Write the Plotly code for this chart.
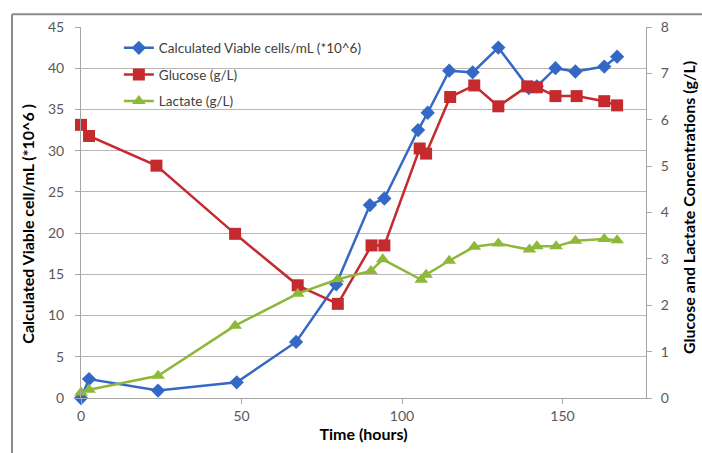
import plotly.graph_objects as go

# Culture time course: viable cell density (left axis) and glucose / lactate (right axis)
cell_hours = [0, 2.5, 24, 48.5, 67, 79.5, 90, 94.5, 105, 108, 114.7, 122, 130,
              139.5, 142, 147.8, 154, 163, 167]
viable_cells = [0, 2.3, 0.9, 1.9, 6.8, 13.8, 23.4, 24.2, 32.5, 34.6, 39.7, 39.5, 42.5,
                37.6, 37.8, 40.0, 39.6, 40.2, 41.4]

glucose_hours = [0, 2.5, 23.5, 48, 67.5, 80, 90.5, 94.5, 105.5, 107.5, 115, 122.5, 130,
                 139, 142, 147.8, 154.4, 163, 167]
glucose = [5.89, 5.65, 5.01, 3.54, 2.43, 2.03, 3.29, 3.29, 5.38, 5.27, 6.49, 6.74, 6.29,
           6.72, 6.70, 6.51, 6.51, 6.40, 6.31]

lactate_hours = [0, 2.5, 24, 48, 67.5, 80, 90.3, 94, 106, 107.5, 114.7, 122.5, 130,
                 139.7, 142, 148, 154, 163, 167]
lactate = [0.12, 0.18, 0.48, 1.56, 2.25, 2.56, 2.74, 2.99, 2.55, 2.66, 2.96, 3.26, 3.33,
           3.20, 3.27, 3.27, 3.39, 3.43, 3.40]

x_ticks = [0, 50, 100, 150]
left_ticks = [0, 5, 10, 15, 20, 25, 30, 35, 40, 45]
right_ticks = [0, 1, 2, 3, 4, 5, 6, 7, 8]

BLUE = "#3468C6"
RED = "#C42A2E"
GREEN = "#8DB83A"
FONT = "Lato, Open Sans, sans-serif"
TICK_COLOR = "#595959"
GRID = "#BDB5B5"
AXIS = "#A6A6A6"

fig = go.Figure()

fig.add_trace(go.Scatter(
    x=cell_hours, y=viable_cells, name="Calculated Viable cells/mL (*10^6)",
    legendgroup="cells",
    mode="lines+markers", line=dict(color=BLUE, width=2.5),
    marker=dict(symbol="diamond", size=11, color=BLUE), cliponaxis=False, yaxis="y"))

fig.add_trace(go.Scatter(
    x=glucose_hours, y=glucose, name="Glucose (g/L)", legendgroup="glucose",
    mode="lines+markers", line=dict(color=RED, width=2.5),
    marker=dict(symbol="square", size=12, color=RED), cliponaxis=False, yaxis="y2"))

fig.add_trace(go.Scatter(
    x=lactate_hours, y=lactate, name="Lactate (g/L)", legendgroup="lactate",
    mode="lines+markers", line=dict(color=GREEN, width=2.5),
    marker=dict(symbol="triangle-up", size=12, color=GREEN), cliponaxis=False, yaxis="y2"))

fig.update_layout(
    width=702, height=453,
    margin=dict(l=81, r=56, t=27, b=51),
    paper_bgcolor="white", plot_bgcolor="white",
    font=dict(family=FONT, size=14, color=TICK_COLOR),
    showlegend=True,
    legend=dict(x=0.067, y=0.985, xanchor="left", yanchor="top",
                bgcolor="rgba(255,255,255,0)", font=dict(size=13.5, color="#404040"),
                itemwidth=30, tracegroupgap=6),
    xaxis=dict(range=[0, 176], tickvals=x_ticks, showgrid=False, zeroline=False,
               showline=True, linecolor=AXIS, linewidth=1,
               ticks="outside", ticklen=5, tickcolor=AXIS,
               title=dict(text="<b>Time (hours)</b>", font=dict(size=16, color="#000000"),
                          standoff=6)),
    yaxis=dict(range=[0, 45], tickvals=left_ticks, showgrid=True, gridcolor=GRID,
               gridwidth=1, zeroline=False, showline=True, linecolor=AXIS,
               ticks="outside", ticklen=5, tickcolor=AXIS, ticklabelstandoff=8),
    yaxis2=dict(range=[0, 8], tickvals=right_ticks, overlaying="y", side="right",
                showgrid=False, zeroline=False, showline=True, linecolor=AXIS,
                ticks="outside", ticklen=5, tickcolor=AXIS, ticklabelstandoff=6),
)

# axis titles placed as rotated annotations
fig.add_annotation(text="<b>Calculated Viable cell/mL (*10^6 )</b>", textangle=-90,
                   xref="paper", yref="paper", x=(28 - 81) / 565, y=0.47,
                   xanchor="center", yanchor="middle", showarrow=False,
                   font=dict(size=16, color="#000000"))
fig.add_annotation(text="<b>Glucose and Lactate Concentrations (g/L)</b>", textangle=-90,
                   xref="paper", yref="paper", x=(688 - 81) / 565, y=0.512,
                   xanchor="center", yanchor="middle", showarrow=False,
                   font=dict(size=16, color="#000000"))

# chart frame (left and top edges)
frame_left = (12 - 81) / 565
frame_top = (402 - 14) / 375
fig.add_shape(type="line", xref="paper", yref="paper", x0=frame_left, x1=frame_left,
              y0=-0.2, y1=frame_top, line=dict(color="#8C8C8C", width=2))
fig.add_shape(type="line", xref="paper", yref="paper", x0=frame_left, x1=1.2,
              y0=frame_top, y1=frame_top, line=dict(color="#8C8C8C", width=2))

fig.write_html("out.html")
